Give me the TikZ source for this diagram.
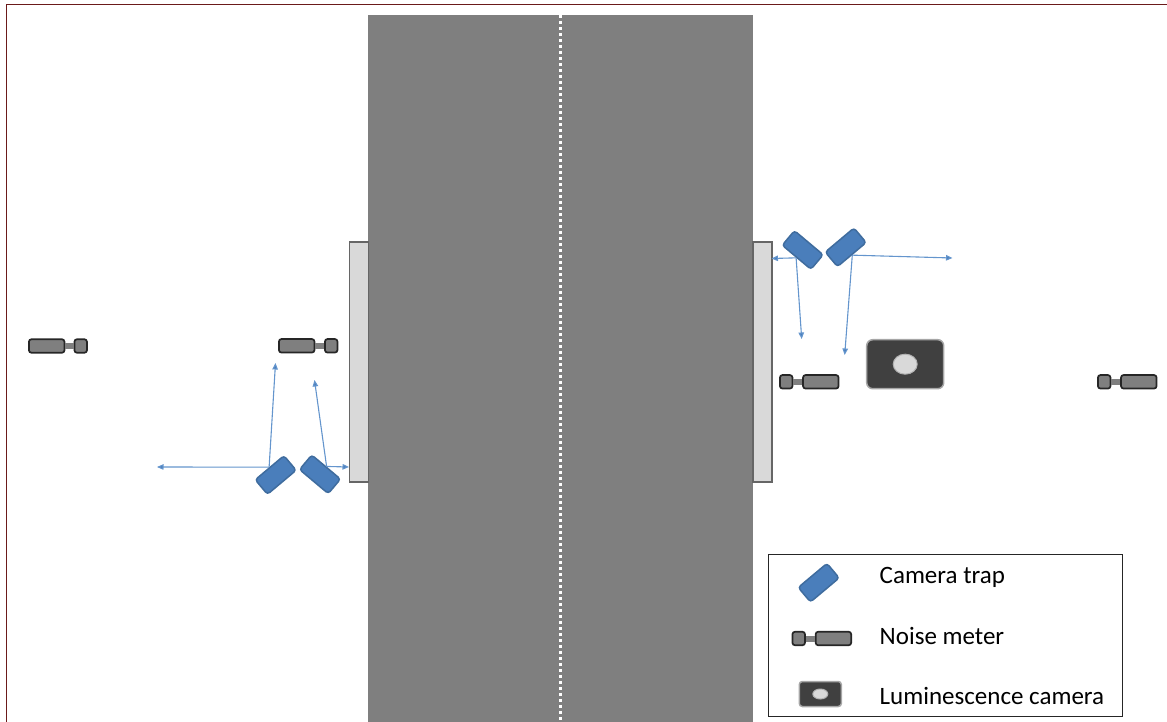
\documentclass[tikz,border=0pt]{standalone}
\usepackage{fontspec}
\setmainfont{Carlito}
\usetikzlibrary{arrows.meta}
\usetikzlibrary{shapes.geometric}
\definecolor{framered}{HTML}{6B1A1A}
\definecolor{roadgray}{HTML}{7F7F7F}
\definecolor{kerbgray}{HTML}{D9D9D9}
\definecolor{trapblue}{HTML}{4A7EBB}
\definecolor{trapedge}{HTML}{3F6C9E}
\definecolor{rayblue}{HTML}{6495CD}
\definecolor{lumdark}{HTML}{404040}

\begin{document}
\begin{tikzpicture}[
    x=1pt, y=-1pt,
    road/.style={rectangle, fill=roadgray, inner sep=0pt, minimum width=385pt, minimum height=707pt},
    kerb/.style={rectangle, draw=black!60, fill=kerbgray, line width=1.5pt, inner sep=0pt, minimum width=19pt, minimum height=240pt},
    trap/.style={rectangle, rounded corners=3pt, draw=trapedge, fill=trapblue, line width=1.5pt, inner sep=0pt, minimum width=37.5pt, minimum height=19pt},
    meterbody/.style={rectangle, rounded corners=2.5pt, draw=black!85, fill=roadgray, line width=1.7pt, inner sep=0pt, minimum width=35.5pt, minimum height=13.5pt},
    meterhead/.style={meterbody, minimum width=12.5pt},
    meterlink/.style={draw=roadgray, line width=6pt},
    lumcam/.style={rectangle, rounded corners=6pt, draw=black!35, fill=lumdark, line width=1.5pt, inner sep=0pt, minimum width=77pt, minimum height=49pt},
    lumlens/.style={ellipse, draw=black!30, fill=kerbgray, line width=1pt, inner sep=0pt, minimum width=24pt, minimum height=20pt},
    ray/.style={draw=rayblue, line width=1.1pt, -{Triangle[length=6.5pt, width=5.5pt, fill=trapblue]}},
    label/.style={anchor=base west, inner sep=0pt, font=\fontsize{25pt}{28pt}\selectfont}
]
    \useasboundingbox (0,0) rectangle (1167,722);

    % frame, top and left only
    \draw[framered, line width=1.6pt] (6.5,722) -- (6.5,4.5) -- (1167,4.5);

    % road and centre line
    \node[road] (road) at (560.5,368.5) {};
    \draw[white, line width=3pt, dash pattern=on 3pt off 3pt] (road.north) -- (road.south);

    % kerbs
    \node[kerb] (kerbL) at (359,362) {};
    \node[kerb] (kerbR) at (762.5,362) {};

    % camera traps
    \node[trap, rotate=40] (trapLa) at (275.7,475) {};
    \node[trap, rotate=-40] (trapLb) at (320,474.3) {};
    \node[trap, rotate=-40] (trapRa) at (802.7,250) {};
    \node[trap, rotate=40] (trapRb) at (845.7,247.3) {};

    % free ends of the rays
    \coordinate (endLa) at (157,467);
    \coordinate (endLb) at (275.5,363);
    \coordinate (endLc) at (314.5,380);
    \coordinate (endLd) at (349,467);
    \coordinate (endRa) at (771.5,258.5);
    \coordinate (endRb) at (801.7,339);
    \coordinate (endRc) at (844.7,355);
    \coordinate (endRd) at (952.5,258);

    % rays of the left pair
    \draw[ray] (trapLa.north) -- (endLa);
    \draw[ray] (trapLa.north) -- (endLb);
    \draw[ray] (trapLb.north) -- (endLc);
    \draw[ray] (trapLb.north) -- (endLd);

    % rays of the right pair
    \draw[ray] (trapRa.south) -- (endRa);
    \draw[ray] (trapRa.south) -- (endRb);
    \draw[ray] (trapRb.south) -- (endRc);
    \draw[ray] (trapRb.south) -- (endRd);

    % noise meters, left side
    \node[meterbody] (bodyA) at (46.7,346) {};
    \node[meterhead] (headA) at (80.7,346) {};
    \draw[meterlink] (bodyA) -- (headA);
    \node[meterbody] (bodyB) at (296.7,345.8) {};
    \node[meterhead] (headB) at (331.2,345.8) {};
    \draw[meterlink] (bodyB) -- (headB);

    % noise meters, right side
    \node[meterbody] (bodyC) at (820.8,381.8) {};
    \node[meterhead] (headC) at (786.2,381.8) {};
    \draw[meterlink] (bodyC) -- (headC);
    \node[meterbody] (bodyD) at (1138.8,381.8) {};
    \node[meterhead] (headD) at (1104.2,381.8) {};
    \draw[meterlink] (bodyD) -- (headD);

    % luminescence camera
    \node[lumcam] (lum) at (905.2,364.2) {};
    \node[lumlens] (lens) at (lum.center) {};

    % legend
    \node[rectangle, draw=black!85, line width=1.3pt, inner sep=0pt, minimum width=354pt, minimum height=162pt] (legend) at (945.5,635.5) {};
    \node[trap, rotate=40] (keyTrap) at (818.7,582.7) {};
    \node[meterbody] (keyBody) at (833.4,638.5) {};
    \node[meterhead] (keyHead) at (798.7,638.5) {};
    \draw[meterlink] (keyBody) -- (keyHead);
    \node[lumcam, minimum width=42pt, minimum height=25pt, rounded corners=3pt] (keyLum) at (820.3,694) {};
    \node[lumlens, minimum width=15pt, minimum height=10pt] (keyLens) at (keyLum.center) {};
    \node[label] (textTrap) at (879.5,583) {Camera trap};
    \node[label] (textMeter) at (879.5,644) {Noise meter};
    \node[label] (textLum) at (879.5,704) {Luminescence camera};
\end{tikzpicture}
\end{document}
